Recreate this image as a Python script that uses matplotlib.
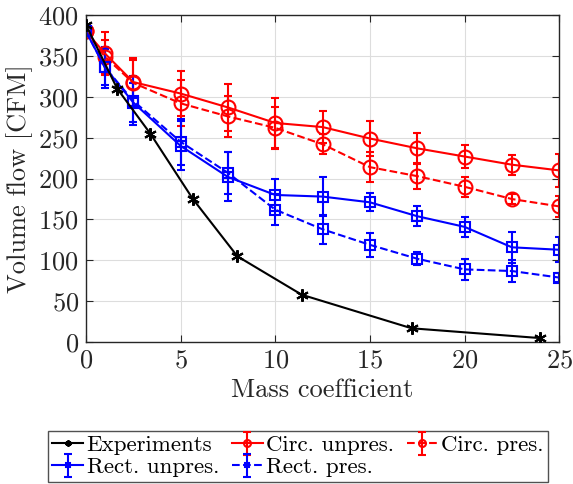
import matplotlib
matplotlib.use('Agg')
import matplotlib.pyplot as plt

# data
exp_x = [0, 1.65, 3.4, 5.65, 8.0, 11.4, 17.2, 24.0]
exp_y = [388, 310, 255, 175, 105, 58, 17, 5]

sim_x = [0, 1, 2.5, 5, 7.5, 10, 12.5, 15, 17.5, 20, 22.5, 25]

circ_unpres = [380, 353, 318, 304, 287, 268, 263, 249, 237, 227, 217, 210]
circ_unpres_err = [0, 26, 30, 28, 29, 31, 20, 21, 19, 14, 12, 20]

circ_pres = [380, 349, 317, 292, 276, 262, 242, 214, 203, 190, 175, 166]
circ_pres_err = [0, 20, 28, 28, 25, 26, 12, 18, 16, 12, 6, 13]

rect_unpres = [380, 336, 293, 240, 202, 180, 178, 171, 154, 141, 116, 113]
rect_unpres_err = [0, 25, 24, 30, 30, 20, 24, 11, 12, 12, 19, 15]

rect_pres = [380, 336, 295, 245, 207, 162, 138, 119, 102, 89, 87, 79]
rect_pres_err = [0, 22, 30, 28, 26, 19, 18, 15, 8, 13, 13, 5]

plt.rcParams['font.family'] = ['cmr10', 'DejaVu Serif']
plt.rcParams['mathtext.fontset'] = 'cm'
plt.rcParams['axes.formatter.use_mathtext'] = True

fig = plt.figure(figsize=(5.73, 4.84), dpi=100)
ax = fig.add_axes([0.150, 0.293, 0.826, 0.676])

ax.plot(exp_x, exp_y, '-', color='black', lw=1.5, marker=(6, 2, 0),
        ms=9, mew=1.5, label='Experiments', zorder=5)
ax.errorbar(sim_x, circ_unpres, yerr=circ_unpres_err, color='red', ls='-', lw=1.5,
            marker='o', ms=10, mfc='none', mew=1.5, capsize=3, elinewidth=1.5,
            capthick=1.5, label='Circ. unpres.')
ax.errorbar(sim_x, circ_pres, yerr=circ_pres_err, color='red', ls='--', lw=1.5,
            marker='o', ms=10, mfc='none', mew=1.5, capsize=3, elinewidth=1.5,
            capthick=1.5, label='Circ. pres.')
ax.errorbar(sim_x, rect_unpres, yerr=rect_unpres_err, color='blue', ls='-', lw=1.5,
            marker='s', ms=7, mfc='none', mew=1.5, capsize=3, elinewidth=1.5,
            capthick=1.5, label='Rect. unpres.')
ax.errorbar(sim_x, rect_pres, yerr=rect_pres_err, color='blue', ls='--', lw=1.5,
            marker='s', ms=7, mfc='none', mew=1.5, capsize=3, elinewidth=1.5,
            capthick=1.5, label='Rect. pres.')

ax.set_xlim(0, 25)
ax.set_ylim(0, 400)
ax.set_xticks([0, 5, 10, 15, 20, 25])
ax.set_yticks(range(0, 401, 50))
ax.grid(True, color='#dddddd', lw=0.8)
ax.set_axisbelow(True)
ax.tick_params(direction='in', top=True, right=True, labelsize=19, length=5,
               color='#262626', labelcolor='#262626', pad=5)
for s in ax.spines.values():
    s.set_color('#262626')
    s.set_linewidth(1.0)

ax.set_xlabel('Mass coefficient', fontsize=19, color='#262626', labelpad=4)
ax.set_ylabel('Volume flow [CFM]', fontsize=19, color='#262626', labelpad=4)

handles, labels = ax.get_legend_handles_labels()
# row 1: Experiments, Circ. unpres., Circ. pres.; row 2: Rect. unpres., Rect. pres.
order = [0, 3, 1, 4, 2]
leg = fig.legend([handles[i] for i in order], [labels[i] for i in order],
                 loc='lower center', bbox_to_anchor=(0.52, 0.004), ncol=3,
                 fontsize=16.5, frameon=True, fancybox=False, edgecolor='#262626',
                 handlelength=1.35, handletextpad=0.15, columnspacing=0.55,
                 borderpad=0.2, labelspacing=0.1, borderaxespad=0.0,
                 markerscale=0.5)
leg.get_frame().set_linewidth(1.0)

fig.savefig('out.png', dpi=100)
